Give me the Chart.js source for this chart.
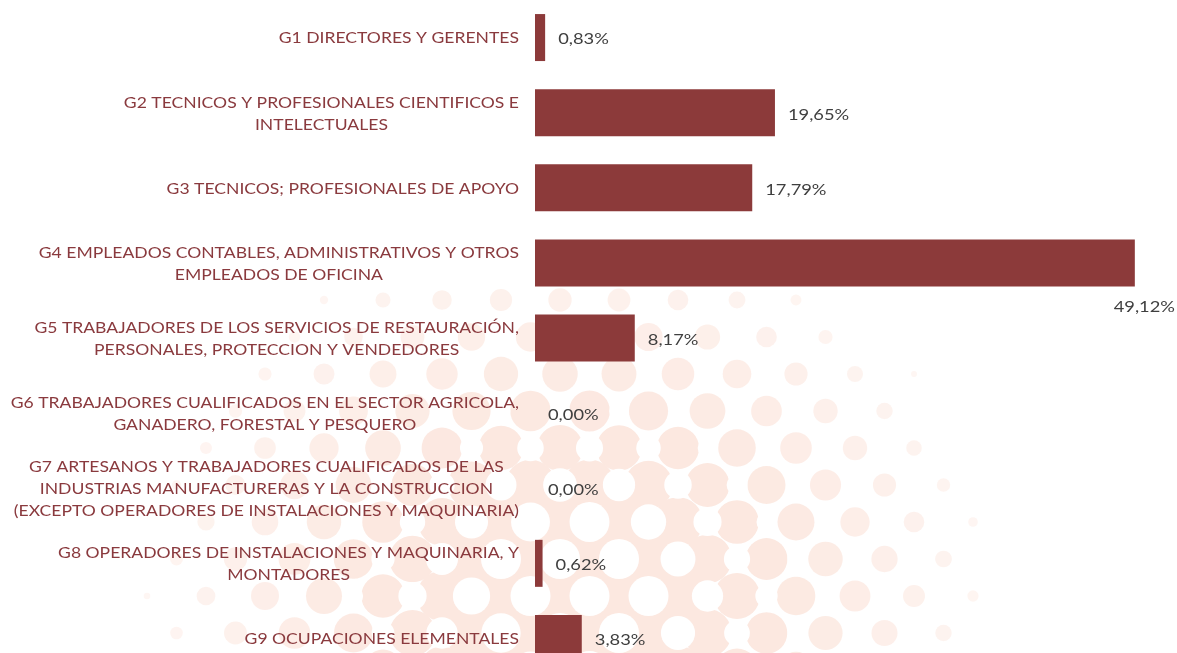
<!DOCTYPE html>
<html>
<head>
<meta charset="utf-8">
<script src="https://cdn.jsdelivr.net/npm/chart.js@4/dist/chart.umd.min.js"></script>
<style>
  html, body { margin: 0; padding: 0; background: #fff; overflow: hidden; }
  #wrap { width: 1177px; height: 676px; }
</style>
</head>
<body>
<div id="wrap"><canvas id="ocupChart" width="1177" height="676"></canvas></div>
<script>
// Grupos de ocupacion (cada linea del rotulo por separado)
const grupos = [
    ['G1 DIRECTORES Y GERENTES'],
    ['G2 TECNICOS Y PROFESIONALES CIENTIFICOS E', 'INTELECTUALES'],
    ['G3 TECNICOS; PROFESIONALES DE APOYO'],
    ['G4 EMPLEADOS CONTABLES, ADMINISTRATIVOS Y OTROS', 'EMPLEADOS DE OFICINA'],
    ['G5 TRABAJADORES DE LOS SERVICIOS DE RESTAURACIÓN,', 'PERSONALES, PROTECCION Y VENDEDORES'],
    ['G6 TRABAJADORES CUALIFICADOS EN EL SECTOR AGRICOLA,', 'GANADERO, FORESTAL Y PESQUERO'],
    ['G7 ARTESANOS Y TRABAJADORES CUALIFICADOS DE LAS', 'INDUSTRIAS MANUFACTURERAS Y LA CONSTRUCCION', '(EXCEPTO OPERADORES DE INSTALACIONES Y MAQUINARIA)'],
    ['G8 OPERADORES DE INSTALACIONES Y MAQUINARIA, Y', 'MONTADORES'],
    ['G9 OCUPACIONES ELEMENTALES']
];

// Porcentaje sobre el total
const porcentajes = [0.83, 19.65, 17.79, 49.12, 8.17, 0.00, 0.00, 0.62, 3.83];

const COLOR_BARRA = '#8C3A3A';
const COLOR_ROTULO = '#8A3A3E';
const COLOR_VALOR = '#3F3F3F';

function formatPct(v) {
    return v.toFixed(2).replace('.', ',') + '%';
}

// texto algo ensanchado en horizontal
function textoAncho(ctx, txt, x, y, sx) {
    ctx.save();
    ctx.translate(x, y);
    ctx.scale(sx, 1);
    ctx.fillText(txt, 0, 0);
    ctx.restore();
}

// Fondo de puntos (semitono) detras del grafico
const fondoPuntos = {
    id: 'fondoPuntos',
    beforeDraw(chart) {
        const ctx = chart.ctx;
        const cx = 570, cy = 590;
        const dens = (x, y) => {
            const dx = (x - cx) / 440, dy = (y - cy) / 380;
            return 1 - Math.sqrt(dx * dx + dy * dy);
        };
        ctx.save();
        // puntos claros
        let fila = 0;
        for (let y = 300; y < chart.height + 40; y += 37, fila++) {
            const off = (fila % 2) ? 29.5 : 0;
            for (let x = -30 + off; x < chart.width; x += 59) {
                const t = dens(x, y);
                if (t <= 0.03) continue;
                ctx.globalAlpha = Math.min(1, 0.35 + t * 1.2);
                ctx.fillStyle = 'rgb(252, 232, 224)';
                ctx.beginPath();
                ctx.arc(x, y, 32 * Math.pow(t, 0.7), 0, Math.PI * 2);
                ctx.fill();
            }
        }
        // huecos blancos donde los puntos se juntan
        ctx.globalAlpha = 1;
        ctx.fillStyle = '#fff';
        fila = 0;
        for (let y = 300; y < chart.height + 40; y += 37, fila++) {
            const off = (fila % 2) ? 0 : 29.5;
            for (let x = -30 + off; x < chart.width; x += 59) {
                const t = dens(x, y);
                if (t < 0.4) continue;
                ctx.beginPath();
                ctx.arc(x, y, 6 + 14 * Math.min(1, (t - 0.4) * 2.4), 0, Math.PI * 2);
                ctx.fill();
            }
        }
        ctx.restore();
    }
};

// Rotulos de categoria centrados en bloque y valores junto a las barras
const rotulos = {
    id: 'rotulos',
    afterDatasetsDraw(chart) {
        const ctx = chart.ctx;
        const yScale = chart.scales.y;
        const meta = chart.getDatasetMeta(0);
        const lineH = 22;
        const sxRot = 1.17, sxVal = 1.22;
        ctx.save();
        ctx.textBaseline = 'middle';

        ctx.font = '15px Lato, "Open Sans", sans-serif';
        ctx.fillStyle = COLOR_ROTULO;
        ctx.textAlign = 'center';
        const derecha = yScale.right - 16;
        grupos.forEach((lineas, i) => {
            const yc = yScale.getPixelForValue(i) + 1;
            const ancho = Math.max(...lineas.map(l => ctx.measureText(l).width)) * sxRot;
            const xc = derecha - ancho / 2;
            const y0 = yc - (lineas.length - 1) * lineH / 2;
            lineas.forEach((l, k) => textoAncho(ctx, l, xc, y0 + k * lineH, sxRot));
        });

        ctx.font = '15px Lato, "Open Sans", sans-serif';
        ctx.fillStyle = COLOR_VALOR;
        ctx.textAlign = 'left';
        meta.data.forEach((bar, i) => {
            const txt = formatPct(porcentajes[i]);
            const w = ctx.measureText(txt).width * sxVal;
            if (bar.x + 16 + w > chart.width) {
                // sin sitio a la derecha: debajo de la barra
                textoAncho(ctx, txt, chart.width - 2 - w, bar.y + bar.height / 2 + 21, sxVal);
            } else {
                textoAncho(ctx, txt, bar.x + 13, bar.y + 2, sxVal);
            }
        });
        ctx.restore();
    }
};

new Chart(document.getElementById('ocupChart'), {
    type: 'bar',
    data: {
        labels: grupos.map(g => g.join(' ')),
        datasets: [{
            data: porcentajes,
            backgroundColor: COLOR_BARRA,
            borderWidth: 0,
            inflateAmount: 0,
            barThickness: 47
        }]
    },
    options: {
        indexAxis: 'y',
        responsive: false,
        animation: false,
        devicePixelRatio: 1,
        layout: { padding: { left: 0, right: 7, top: 0, bottom: 0 } },
        plugins: {
            legend: { display: false },
            tooltip: { enabled: false }
        },
        scales: {
            x: {
                display: false,
                min: 0,
                max: 52
            },
            y: {
                ticks: { display: false },
                grid: { display: false },
                border: { display: false },
                afterFit: function(scale) {
                    scale.width = 535;
                }
            }
        }
    },
    plugins: [fondoPuntos, rotulos]
});
</script>
</body>
</html>
